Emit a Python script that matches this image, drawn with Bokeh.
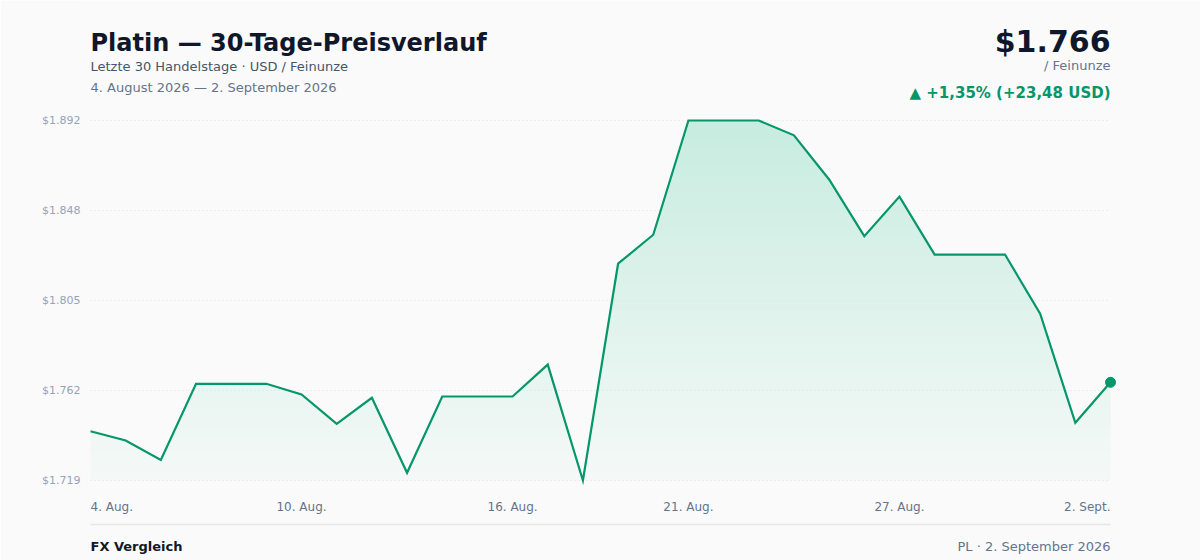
from bokeh.plotting import figure
from bokeh.models import Range1d, FixedTicker, Label
from bokeh.embed import file_html
from bokeh.resources import INLINE

# Platin in USD je Feinunze, 4. Aug. 2026 - 2. Sept. 2026 (ein Punkt pro Tag)
days = list(range(30))
prices = [1742.52, 1738.1, 1728.8, 1765.3, 1765.3, 1765.3, 1760.2, 1746.1, 1758.6, 1722.6,
          1759.2, 1759.2, 1759.2, 1774.5, 1718.9, 1822.9, 1836.8, 1891.6, 1891.6, 1891.6,
          1884.5, 1863.3, 1836.1, 1855.1, 1827.3, 1827.3, 1827.3, 1798.9, 1746.6, 1766.0]
tick_days = [0, 6, 12, 17, 23, 29]
tick_names = ["4. Aug.", "10. Aug.", "16. Aug.", "21. Aug.", "27. Aug.", "2. Sept."]

FONT = "DejaVu Sans"
GREEN = "#059669"
BG = "#fafafa"

# layout in canvas pixels
W, H = 1200, 560
X_FIRST, X_LAST = 90, 1110      # first / last day
Y_TOP, Y_BOT = 120, 480         # max / min price
FRAME_LEFT = 84

ymin, ymax = min(prices), max(prices)
sx = (X_LAST - X_FIRST) / (len(days) - 1)
sy = (Y_BOT - Y_TOP) / (ymax - ymin)

def cx(px):
    return days[0] + (px - X_FIRST) / sx

def cy(py):
    return ymin + (Y_BOT - py) / sy

p = figure(width=W, height=H,
           x_range=Range1d(cx(FRAME_LEFT), cx(W)),
           y_range=Range1d(cy(H), cy(0)),
           output_backend="svg", toolbar_location=None,
           x_axis_location=None,
           min_border_left=FRAME_LEFT, min_border_right=0,
           min_border_top=0, min_border_bottom=0)
p.background_fill_color = BG
p.border_fill_color = BG
p.outline_line_color = None
p.grid.visible = False

# y axis: 5 ticks evenly between min and max
yticks = [round(ymin + i * (ymax - ymin) / 4, 3) for i in range(5)]
p.yaxis.ticker = FixedTicker(ticks=yticks)
p.yaxis.major_label_overrides = {t: "$" + f"{t:,.0f}".replace(",", ".") for t in yticks}
p.yaxis.axis_line_color = None
p.yaxis.major_tick_line_color = None
p.yaxis.minor_tick_line_color = None
p.yaxis.major_tick_out = 0
p.yaxis.major_tick_in = 0
p.yaxis.major_label_standoff = 4
p.yaxis.major_label_text_font = FONT
p.yaxis.major_label_text_font_size = "11px"
p.yaxis.major_label_text_color = "#94a3b8"

# gradient under the line: opaque bands (mint over background), then masks
def mix(a):
    c1, c2 = (250, 250, 250), (16, 185, 129)
    return "#%02x%02x%02x" % tuple(round(u * (1 - a) + v * a) for u, v in zip(c1, c2))

nb = 40
for k in range(nb):
    a = 0.025 + 0.19 * k / (nb - 1)
    p.quad(left=days[0] - 0.1, right=days[-1] + 0.1, bottom=ymin + (ymax - ymin) * k / nb, top=ymax + 1,
           fill_color=mix(a), line_color=None)
p.varea(x=[days[0] - 0.12] + days + [days[-1] + 0.12], y1=[prices[0]] + prices + [prices[-1]],
        y2=cy(0), fill_color=BG)
p.quad(left=[days[0] - 0.15, days[-1]], right=[days[0], days[-1] + 0.15],
       bottom=ymin - 2, top=cy(0), fill_color=BG, line_color=None)

p.segment(x0=days[0], x1=days[-1], y0=yticks, y1=yticks,
          line_color="#dde2e8", line_width=1, line_dash="1 3")

p.line(days, prices, line_color=GREEN, line_width=2.2, line_join="miter")
p.scatter([days[-1]], [prices[-1]], size=10, color=GREEN)

# x labels
for d, name in zip(tick_days, tick_names):
    align = "left" if d == days[0] else ("right" if d == days[-1] else "center")
    p.add_layout(Label(x=d, y=cy(506), text=name, text_align=align, text_baseline="alphabetic",
                       text_font=FONT, text_font_size="12px", text_color="#64748b"))

# header
first, last = prices[0], prices[-1]
diff = last - first
pct = diff / first * 100

def txt(x, y, s, size, color, bold=False, align="left"):
    p.add_layout(Label(x=cx(x), y=cy(y), text=s, text_align=align, text_baseline="alphabetic",
                       text_font=FONT, text_font_size=size, text_color=color,
                       text_font_style="bold" if bold else "normal"))

txt(X_FIRST, 42, "Platin — 30-Tage-Preisverlauf", "24px", "#0f172a", bold=True)
txt(X_FIRST, 66, "Letzte 30 Handelstage · USD / Feinunze", "13px", "#475569")
txt(X_FIRST, 87, "4. August 2026 — 2. September 2026", "13px", "#64748b")

txt(X_LAST, 41, "$" + f"{last:,.0f}".replace(",", "."), "30px", "#0f172a", bold=True, align="right")
txt(X_LAST, 65, "/ Feinunze", "13px", "#64748b", align="right")
txt(X_LAST, 92, "▲ +" + f"{pct:.2f}".replace(".", ",") + "% (+" + f"{diff:.2f}".replace(".", ",") + " USD)",
    "15px", GREEN, bold=True, align="right")

# footer
p.segment(x0=[cx(X_FIRST)], x1=[cx(X_LAST)], y0=[cy(524)], y1=[cy(524)],
          line_color="#e5e7eb", line_width=1.5)
txt(X_FIRST, 546, "FX Vergleich", "13px", "#111827", bold=True)
txt(X_LAST, 546, "PL · 2. September 2026", "13px", "#64748b", align="right")

open("out.html", "w").write(file_html(p, INLINE))
